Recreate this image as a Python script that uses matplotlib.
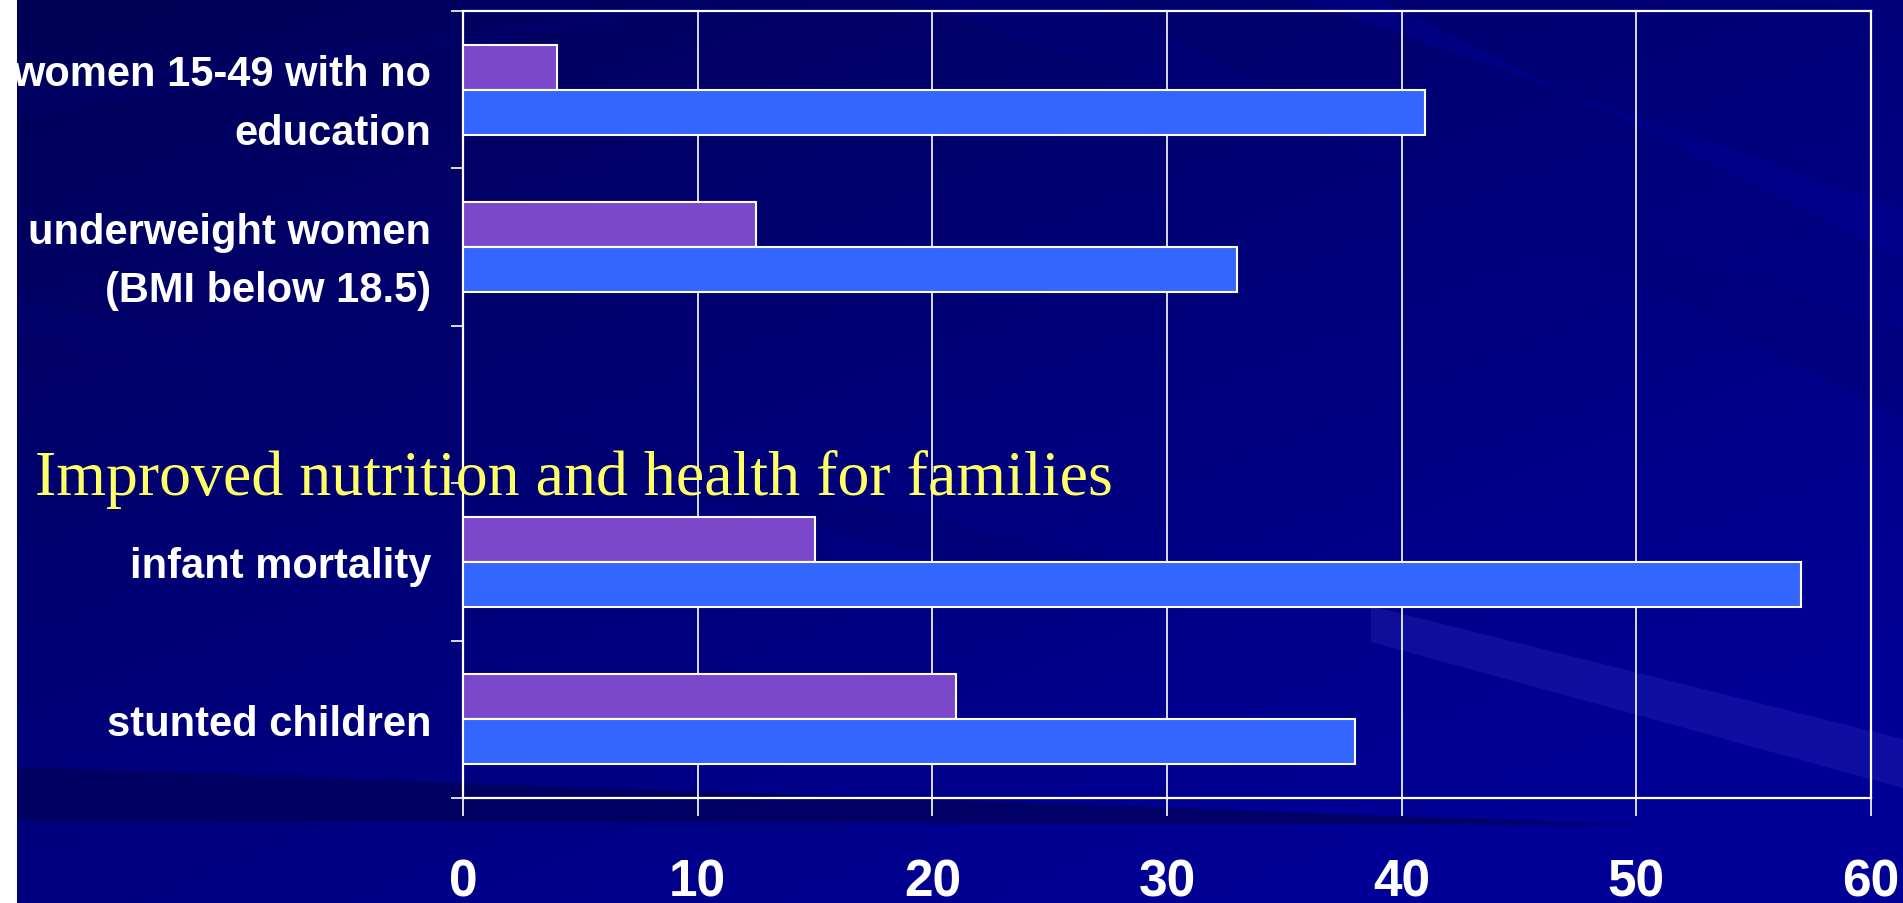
import numpy as np
import matplotlib
matplotlib.use("Agg")
import matplotlib.pyplot as plt
from matplotlib.patches import Polygon, Rectangle

# ---- data ----
categories = ["women 15-49 with no\neducation",
              "underweight women\n(BMI below 18.5)",
              "",
              "infant mortality",
              "stunted children"]
purple_values = [4, 12.5, None, 15, 21]
blue_values = [41, 33, None, 57, 38]
x_ticks = [0, 10, 20, 30, 40, 50, 60]
title_text = "Improved nutrition and health for families"

W, H = 1903, 904
fig = plt.figure(figsize=(W / 100, H / 100), dpi=100)

# ---- background ----
bg = fig.add_axes([0, 0, 1, 1])
bg.set_axis_off()
gx, gy = np.meshgrid(np.linspace(0, 1, 400), np.linspace(0, 1, 200))
t = np.clip(0.55 * gx + 0.65 * gy, 0, 1)
dark = np.array([0x00, 0x00, 0x56]) / 255
light = np.array([0x00, 0x00, 0x96]) / 255
img = dark[None, None, :] * (1 - t[..., None]) + light[None, None, :] * t[..., None]
bg.imshow(img, extent=[0, W, H, 0], aspect="auto", interpolation="bilinear", zorder=0)
bg.set_xlim(0, W)
bg.set_ylim(H, 0)

streaks = [
    ([(17, 768), (1650, 826), (17, 822)], "#00005C", 0.8),
    ([(1371, 607), (W, 740), (W, 789), (1371, 643)], "#3030C0", 0.30),
    ([(900, 0), (1100, 0), (W, 420), (W, 330)], "#00007A", 0.5),
    ([(1300, 0), (1380, 0), (W, 260), (W, 210)], "#0000A0", 0.35),
    ([(17, 330), (17, 300), (1100, 560), (1100, 600)], "#000070", 0.45),
    ([(17, 120), (17, 90), (700, 0), (760, 0)], "#000070", 0.35),
]
for pts, col, a in streaks:
    bg.add_patch(Polygon(pts, closed=True, facecolor=col, edgecolor="none", alpha=a, zorder=1))
bg.add_patch(Rectangle((0, 0), 17, H, facecolor="white", edgecolor="none", zorder=2))

# ---- chart ----
left, right, top, bottom = 463, 1871, 12, 799
ax = fig.add_axes([left / W, 1 - bottom / H, (right - left) / W, (bottom - top) / H])
ax.patch.set_alpha(0)

bar_h = 0.286
for i, (pv, bv) in enumerate(zip(purple_values, blue_values)):
    if pv is not None:
        ax.barh(i - bar_h / 2, pv, height=bar_h, color="#7B48CC",
                edgecolor="white", linewidth=1.5, zorder=3)
    if bv is not None:
        ax.barh(i + bar_h / 2, bv, height=bar_h, color="#3366FF",
                edgecolor="white", linewidth=1.5, zorder=3)

ax.set_xlim(0, 60)
ax.set_ylim(len(categories) - 0.5, -0.5)
ax.set_xticks(x_ticks)
ax.set_xticklabels([str(v) for v in x_ticks], fontsize=37, fontweight="bold",
                   color="white", family="Liberation Sans")
ax.set_yticks(range(len(categories)))
ax.set_yticklabels(categories, fontsize=30, fontweight="bold", color="white",
                   family="Liberation Sans", linespacing=1.6)
ax.set_yticks(np.arange(-0.5, len(categories), 1.0), minor=True)
ax.tick_params(axis="y", which="major", length=0, pad=23)
ax.tick_params(axis="y", which="minor", length=9, width=1.2, color="white", direction="out")
ax.tick_params(axis="x", which="major", length=13, width=1.2, color="white",
               direction="out", pad=30)
ax.xaxis.grid(True, color="white", linewidth=1.2)
ax.set_axisbelow(True)
for s in ax.spines.values():
    s.set_color("white")
    s.set_linewidth(1.6)

fig.text(35 / W, 1 - 495 / H, title_text, fontsize=46, color="#FFFF66",
         family="Liberation Serif", ha="left", va="baseline", zorder=10)

fig.savefig("out.png", dpi=100)
